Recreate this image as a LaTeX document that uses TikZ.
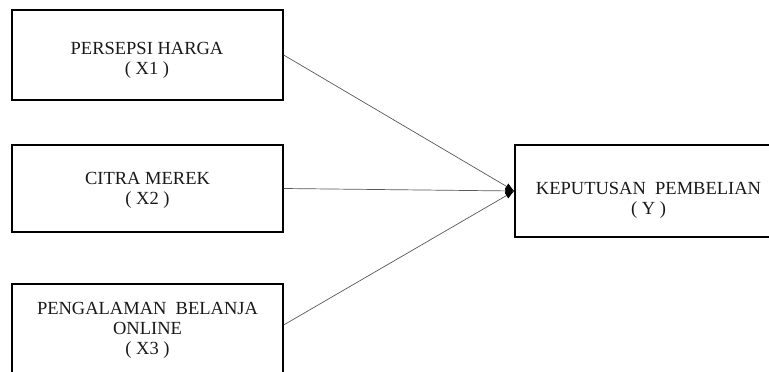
\documentclass[tikz,border=0pt]{standalone}
\usepackage{fontspec}
\setmainfont{Liberation Serif}
\usetikzlibrary{arrows.meta}
\begin{document}
\begin{tikzpicture}[x=1pt,y=-1pt,
  varbox/.style={draw=black,line width=1.3pt,minimum width=271pt,inner sep=0pt,fill=white},
  vartext/.style={align=center,text=black!90,font=\fontsize{18.5}{20}\selectfont,inner sep=0pt},
  link/.style={draw=black!65,line width=0.7pt,-{Latex[length=9pt,width=7pt,color=black]}}]
\useasboundingbox (0,0) rectangle (769,372);
\clip (0,0) rectangle (769,372);
\fill[white] (0,0) rectangle (769,372);
\node[varbox,minimum height=90pt] (b1) at (147.5,55) {};
\node[varbox,minimum height=87pt] (b2) at (147.5,188.5) {};
\node[varbox,minimum height=90pt] (b3) at (147.5,329) {};
\node[varbox,minimum width=268pt,minimum height=92pt] (by) at (649,191) {};
\node[vartext] (t1) at (147,60) {PERSEPSI HARGA\\( X1 )};
\node[vartext] (t2) at (147.5,190) {CITRA MEREK\\( X2 )};
\node[vartext] (t3) at (147.5,330) {PENGALAMAN\ \ BELANJA\\ONLINE\\( X3 )};
\node[vartext] (ty) at (648.5,200) {KEPUTUSAN\ \ PEMBELIAN\\( Y )};
\draw[link] (b1.east) -- (by.west);
\draw[link] (b2.east) -- (by.west);
\draw[link] ([yshift=4pt]b3.east) -- (by.west);
\end{tikzpicture}
\end{document}
